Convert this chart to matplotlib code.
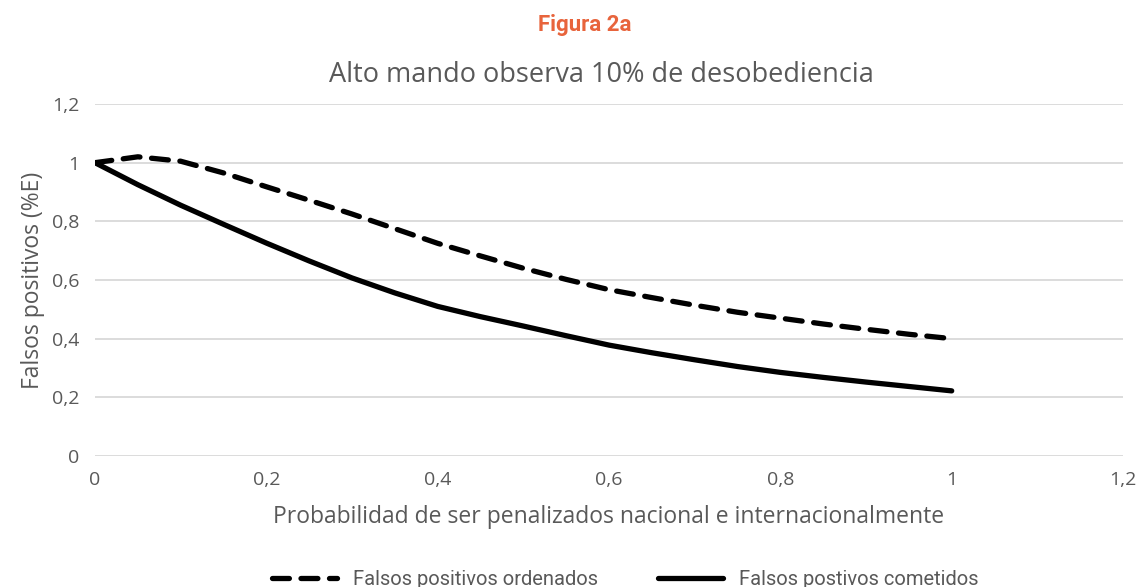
import matplotlib.pyplot as plt
from matplotlib.ticker import FuncFormatter

# probability of being penalised (x axis)
prob = [0.0, 0.05, 0.1, 0.15, 0.2, 0.25, 0.3, 0.35, 0.4, 0.45, 0.5,
        0.55, 0.6, 0.65, 0.7, 0.75, 0.8, 0.85, 0.9, 0.95, 1.0]

# false positives ordered (dashed)
fp_ordenados = [1.0, 1.02, 1.005, 0.965, 0.918, 0.872, 0.825, 0.775, 0.725, 0.682, 0.64,
                0.602, 0.567, 0.54, 0.514, 0.49, 0.47, 0.45, 0.432, 0.415, 0.40]

# false positives committed (solid)
fp_cometidos = [1.0, 0.925, 0.855, 0.79, 0.726, 0.665, 0.607, 0.556, 0.51, 0.475, 0.443,
                0.41, 0.378, 0.352, 0.328, 0.305, 0.285, 0.268, 0.252, 0.237, 0.222]

x_ticks = [0, 0.2, 0.4, 0.6, 0.8, 1.0, 1.2]
y_ticks = [0, 0.2, 0.4, 0.6, 0.8, 1.0, 1.2]

GRAY = "#595959"
ORANGE = "#E8643C"
BASE_FONT = ["Open Sans", "DejaVu Sans"]
NARROW_FONT = ["Roboto", "DejaVu Sans"]

plt.rcParams["font.family"] = BASE_FONT


def comma_fmt(v, _pos):
    s = f"{v:.1f}".rstrip("0").rstrip(".")
    return s.replace(".", ",")


fig = plt.figure(figsize=(11.39, 5.87), dpi=100)
ax = fig.add_axes([0.0834, 0.2232, 0.9026, 0.5996])

ax.plot(prob, fp_ordenados, color="black", lw=3.8, dashes=(3.2, 2.2),
        dash_capstyle="round", solid_capstyle="round",
        label="Falsos positivos ordenados")
ax.plot(prob, fp_cometidos, color="black", lw=3.8, solid_capstyle="round",
        label="Falsos postivos cometidos")

ax.set_xlim(0, 1.2)
ax.set_ylim(0, 1.2)
ax.set_xticks(x_ticks)
ax.set_yticks(y_ticks)
ax.xaxis.set_major_formatter(FuncFormatter(comma_fmt))
ax.yaxis.set_major_formatter(FuncFormatter(comma_fmt))
ax.tick_params(length=0, labelsize=14, labelcolor=GRAY, pad=11)
ax.yaxis.grid(True, color="#d9d9d9", lw=1.3)
ax.set_axisbelow(True)
for spine in ax.spines.values():
    spine.set_visible(False)

ax.set_xlabel("Probabilidad de ser penalizados nacional e internacionalmente",
              fontsize=16.5, color=GRAY, labelpad=11)
ax.set_ylabel("Falsos positivos (%E)", fontsize=16.5, color=GRAY, labelpad=5)

fig.text(0.528, 0.872, "Alto mando observa 10% de desobediencia",
         ha="center", va="center", fontsize=19.5, color=GRAY)
fig.text(0.513, 0.958, "Figura 2a", ha="center", va="center",
         fontsize=16, color=ORANGE, family=NARROW_FONT, weight="bold")

leg = fig.legend(loc="center", bbox_to_anchor=(0.549, 0.013), ncol=2,
                 frameon=False, handlelength=3.2,
                 columnspacing=3.0, prop={"family": NARROW_FONT, "size": 14.5})
for t in leg.get_texts():
    t.set_color(GRAY)

fig.savefig("out.png", dpi=100)
